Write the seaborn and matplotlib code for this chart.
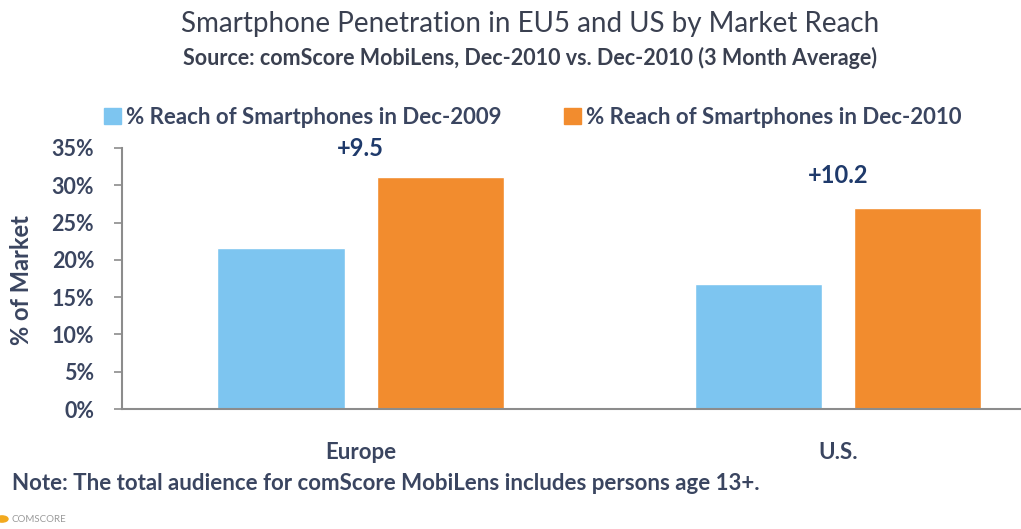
import matplotlib
matplotlib.use("Agg")
import matplotlib.pyplot as plt
import seaborn as sns
import pandas as pd
from matplotlib.patches import Rectangle, Circle

regions = ["Europe", "U.S."]
series = ["% Reach of Smartphones in Dec-2009", "% Reach of Smartphones in Dec-2010"]
reach_2009 = [21.6, 16.8]
reach_2010 = [31.1, 27.0]
changes = ["+9.5", "+10.2"]
yticks = [0, 5, 10, 15, 20, 25, 30, 35]

df = pd.DataFrame({
    "region": regions * 2,
    "series": [series[0]] * 2 + [series[1]] * 2,
    "value": reach_2009 + reach_2010,
})

sns.set_theme(style="white")
plt.rcParams["font.family"] = ["Lato", "DejaVu Sans"]

W, H = 1021, 529
fig = plt.figure(figsize=(W / 100, H / 100), dpi=100)
ax = fig.add_axes([122 / W, 1 - 409 / H, 1 - 122 / W, (409 - 148) / H])

blue = "#7DC5F0"
orange = "#F28C2E"
sns.barplot(data=df, x="region", y="value", hue="series", order=regions,
            hue_order=series, palette=[blue, orange], width=0.667, gap=0.2,
            dodge=True, ax=ax, legend=False, saturation=1)

ax.set_ylim(0, 35)
ax.set_xlim(-0.5, 1.384)
ax.set_yticks(yticks)
tick_col = "#3A4560"
ax.set_yticklabels([f"{t}%" for t in yticks], fontsize=15.5, fontweight="bold", color=tick_col)
ax.set_xticks(range(len(regions)))
ax.set_xticklabels(regions, fontsize=16, fontweight="bold", color=tick_col)
ax.tick_params(axis="x", length=0, pad=24)
ax.tick_params(axis="y", left=True, length=6, width=1.2, color="#8C8C8C", pad=14, direction="out")
ax.set_xlabel("")
ax.set_ylabel("% of Market", fontsize=17, fontweight="bold", color=tick_col)
ax.yaxis.set_label_coords(33 / W, 1 - 280 / H, transform=fig.transFigure)
for s in ["top", "right"]:
    ax.spines[s].set_visible(False)
for s in ["left", "bottom"]:
    ax.spines[s].set_visible(True)
    ax.spines[s].set_color("#8C8C8C")
    ax.spines[s].set_linewidth(1.5)

ann_col = "#1F3A6B"
for i, (v, c, off) in enumerate(zip(reach_2010, changes, [12, 15])):
    ax.annotate(c, xy=(i, v), xytext=(0, off), textcoords="offset points",
                ha="center", va="bottom", fontsize=17, fontweight="bold", color=ann_col)

# Titles
fig.text(530 / W, 1 - 24 / H, "Smartphone Penetration in EU5 and US by Market Reach",
         ha="center", va="center", fontsize=20, color="#3A4050")
fig.text(530 / W, 1 - 58 / H, "Source: comScore MobiLens, Dec-2010 vs. Dec-2010 (3 Month Average)",
         ha="center", va="center", fontsize=15.5, fontweight="bold", color="#3A4050")

# Legend
for (x0, col, lab) in [(104, blue, series[0]), (564, orange, series[1])]:
    fig.patches.append(Rectangle((x0 / W, 1 - 124 / H), 17 / W, 16 / H,
                                 transform=fig.transFigure, color=col, figure=fig))
    fig.text((x0 + 22) / W, 1 - 117 / H, lab, ha="left", va="center",
             fontsize=16, fontweight="bold", color=tick_col)

# Note and logo
fig.text(12 / W, 1 - 484 / H, "Note: The total audience for comScore MobiLens includes persons age 13+.",
         ha="left", va="center", fontsize=16, fontweight="bold", color="#3A4560")
fig.patches.append(Circle((2 / W, 1 - 519 / H), 6 / W, transform=fig.transFigure,
                          color="#F2A91E", figure=fig))
fig.text(12 / W, 1 - 519 / H, "COMSCORE", ha="left", va="center", fontsize=7, color="#9A9A9A")

fig.savefig("out.png", dpi=100)
